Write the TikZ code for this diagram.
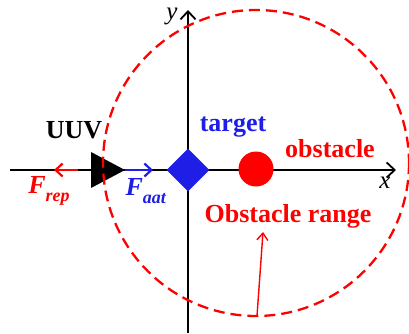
\documentclass[tikz,border=0pt]{standalone}
\usepackage{fontspec}
\setmainfont{Liberation Serif}
\usetikzlibrary{arrows.meta,shapes.geometric}
\definecolor{tblue}{RGB}{30,30,230}
\definecolor{tred}{RGB}{255,0,0}
\tikzset{
  axis/.style={line width=2.1pt,-{Straight Barb[length=8pt,width=15pt,line width=1.8pt]}},
  force/.style={line width=2.6pt,-{Straight Barb[length=7pt,width=13pt,line width=2.2pt]}},
  lbl/.style={font=\fontsize{26}{30}\selectfont\bfseries,inner sep=0pt},
  axlbl/.style={font=\fontsize{25}{28}\selectfont\itshape,inner sep=0pt},
}
\newcommand{\Fsub}[1]{\textit{F}\raisebox{-0.28em}{\fontsize{18}{20}\selectfont\textit{#1}}}
\begin{document}
\begin{tikzpicture}[x=1pt,y=-1pt]
\useasboundingbox (0,0) rectangle (409,333);
% axes
\coordinate (xs) at (10,170);
\coordinate (xe) at (396,170);
\coordinate (ys) at (188,333);
\coordinate (ye) at (188,10);
\draw[axis] (xs) -- (xe);
\draw[axis] (ys) -- (ye);
\node[axlbl] (xl) at (385,183) {x};
\node[axlbl] (yl) at (172,16) {y};
% UUV
\coordinate (uA) at (91,152);
\coordinate (uB) at (125,170);
\coordinate (uC) at (91,188);
\fill (uA) -- (uB) -- (uC) -- cycle;
% forces
\coordinate (r1) at (78,170);
\coordinate (r2) at (54,170);
\coordinate (b1) at (125,170);
\coordinate (b2) at (153,170);
\draw[force,tred] (r1) -- (r2);
\draw[force,tblue] (b1) -- (b2);
% target and obstacle
\node[diamond,fill=tblue,minimum size=43pt,inner sep=0pt] (target) at (188,170) {};
\node[circle,fill=tred,minimum size=35pt,inner sep=0pt] (obst) at (256,169) {};
% range
\draw[tred,line width=2.3pt,dash pattern=on 11pt off 6pt] (256,163) circle (153);
\coordinate (rp) at (257,316);
\node[lbl,text=tred] (range) at (288,216) {Obstacle range};
\draw[tred,line width=1.4pt,-{Straight Barb[length=7pt,width=11pt,line width=1.4pt]}] (rp) -- (263,232);
% labels
\node[lbl] (uuv) at (74,130) {UUV};
\node[lbl,text=tblue] (tl) at (233,127) {target};
\node[lbl,text=tred] (ol) at (330,149) {obstacle};
\node[lbl,text=tred] (fr) at (49,191) {\Fsub{rep}};
\node[lbl,text=tblue] (fa) at (146,191) {\Fsub{aat}};
\end{tikzpicture}
\end{document}
